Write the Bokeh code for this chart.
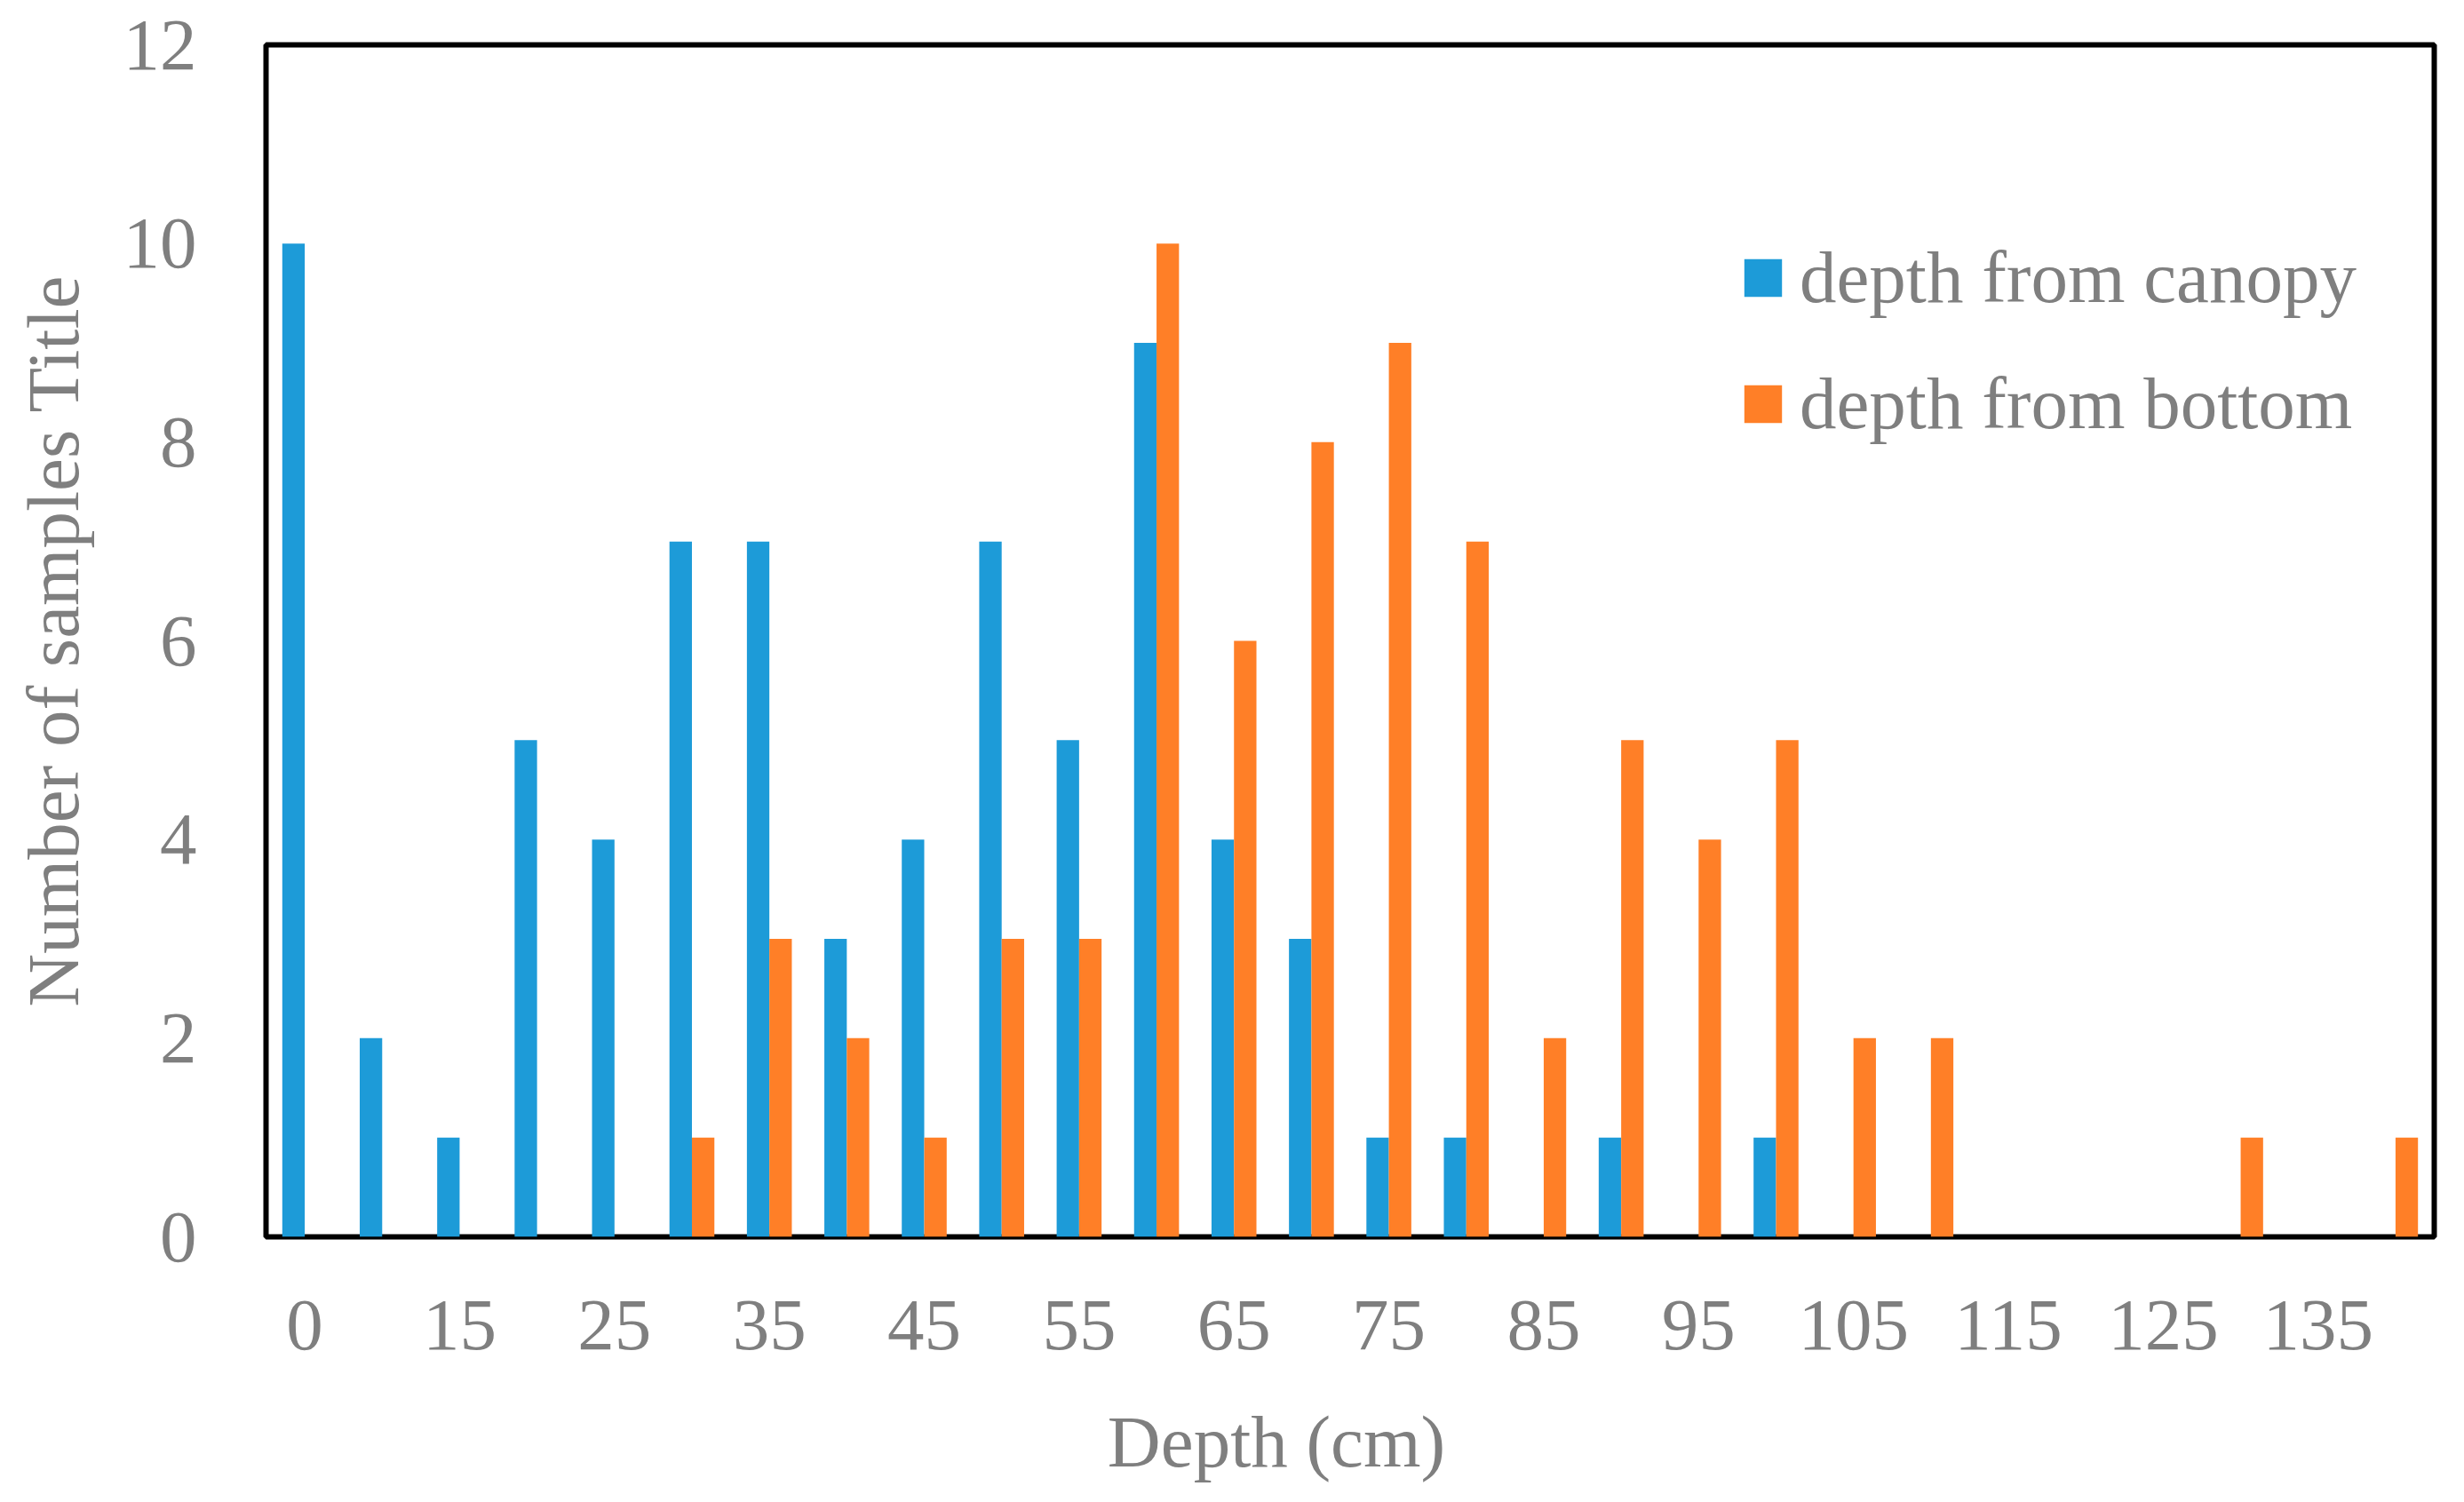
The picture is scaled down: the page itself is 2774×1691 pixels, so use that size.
from bokeh.plotting import figure
from bokeh.models import Range1d, FixedTicker, Legend, LegendItem, ColumnDataSource
from bokeh.transform import dodge
from bokeh.embed import file_html
from bokeh.resources import INLINE

# ---- data ----
categories = ["0", "10", "15", "20", "25", "30", "35", "40", "45", "50", "55", "60", "65", "70",
              "75", "80", "85", "90", "95", "100", "105", "110", "115", "120", "125", "130", "135", "140"]
canopy = [10, 2, 1, 5, 4, 7, 7, 3, 4, 7, 5, 9, 4, 3, 1, 1, 0, 1, 0, 1, 0, 0, 0, 0, 0, 0, 0, 0]
bottom = [0, 0, 0, 0, 0, 1, 3, 2, 1, 3, 3, 10, 6, 8, 9, 7, 2, 5, 4, 5, 2, 2, 0, 0, 0, 1, 0, 1]
series_names = ["depth from canopy", "depth from bottom"]
y_ticks = [0, 2, 4, 6, 8, 10, 12]
x_title = "Depth (cm)"
y_title = "Number of samples Title"

BLUE = "#1D9BD8"
ORANGE = "#FF7F27"
GREY = "#7F7F7F"
FONT = "Liberation Serif"
FS = "83px"

idx = list(range(len(categories)))
src = ColumnDataSource(dict(x=idx, canopy=canopy, bottom=bottom))

p = figure(width=2758, height=1675, output_backend="svg", toolbar_location=None,
           x_range=Range1d(-0.5, len(categories) - 0.5), y_range=Range1d(0, 12),
           min_border_left=299, min_border_top=50, min_border_right=18, min_border_bottom=283)

r1 = p.vbar(x=dodge("x", -0.145), top="canopy", width=0.29, source=src,
            fill_color=BLUE, line_color=None)
r2 = p.vbar(x=dodge("x", 0.145), top="bottom", width=0.29, source=src,
            fill_color=ORANGE, line_color=None)

p.grid.visible = False
p.outline_line_color = "black"
p.outline_line_width = 6
p.outline_line_alpha = 1.0
p.background_fill_color = "white"
p.border_fill_color = "white"

# x axis
p.xaxis.ticker = FixedTicker(ticks=idx[::2])
p.xaxis.major_label_overrides = {i: categories[i] for i in idx}
p.xaxis.major_label_text_font = FONT
p.xaxis.major_label_text_font_size = FS
p.xaxis.major_label_text_color = GREY
p.xaxis.major_label_standoff = 66
p.xaxis.major_tick_line_color = None
p.xaxis.minor_tick_line_color = None
p.xaxis.axis_line_color = None
# trailing no-break spaces shift the centred title slightly left, as in the reference
p.xaxis.axis_label = x_title + "\u00a0" * 8
p.xaxis.axis_label_text_font = FONT
p.xaxis.axis_label_text_font_size = FS
p.xaxis.axis_label_text_color = GREY
p.xaxis.axis_label_text_font_style = "normal"
p.xaxis.axis_label_standoff = 55

# y axis
p.yaxis.ticker = FixedTicker(ticks=y_ticks)
p.yaxis.major_label_text_font = FONT
p.yaxis.major_label_text_font_size = FS
p.yaxis.major_label_text_color = GREY
p.yaxis.major_label_standoff = 72
p.yaxis.major_tick_line_color = None
p.yaxis.minor_tick_line_color = None
p.yaxis.axis_line_color = None
p.yaxis.axis_label = y_title
p.yaxis.axis_label_text_font = FONT
p.yaxis.axis_label_text_font_size = FS
p.yaxis.axis_label_text_color = GREY
p.yaxis.axis_label_text_font_style = "normal"
p.yaxis.axis_label_standoff = 30

legend = Legend(items=[LegendItem(label=series_names[0], renderers=[r1]),
                       LegendItem(label=series_names[1], renderers=[r2])],
                location=(1659, 890), orientation="vertical",
                label_text_font=FONT, label_text_font_size=FS, label_text_color=GREY,
                glyph_width=53, glyph_height=53, label_standoff=15, spacing=46,
                padding=0, margin=0, border_line_color=None, background_fill_alpha=0)
p.add_layout(legend)

open("out.html", "w").write(file_html(p, INLINE))
